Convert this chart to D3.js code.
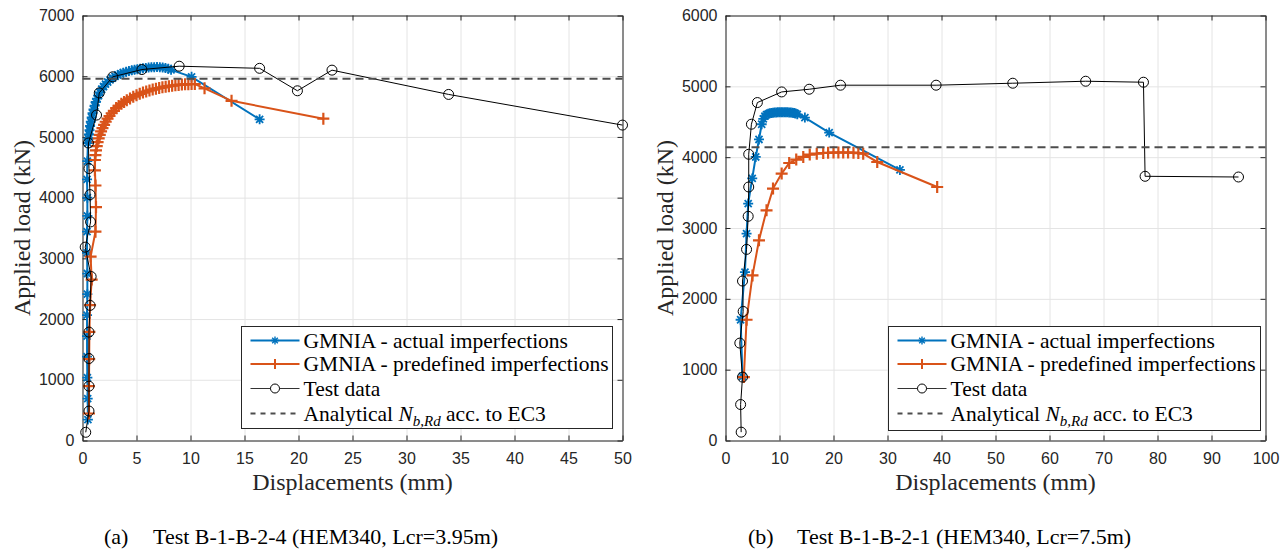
<!DOCTYPE html>
<html>
<head>
<meta charset="utf-8">
<script src="https://cdn.jsdelivr.net/npm/d3@7"></script>
<style>
  body { margin: 0; background: #fff; }
  svg { display: block; }
</style>
</head>
<body>
<div id="chart"></div>
<script>
// ---- Panel (a): Test B-1-B-2-4 ----
const aXTicks = [0, 5, 10, 15, 20, 25, 30, 35, 40, 45, 50];
const aYTicks = [0, 1000, 2000, 3000, 4000, 5000, 6000, 7000];

// GMNIA - actual imperfections [disp mm, load kN]
const aActual = [
  [0.5,345],[0.48,690],[0.45,1035],[0.42,1380],[0.42,1720],[0.42,2065],[0.45,2410],
  [0.45,2750],[0.42,3090],[0.42,3440],[0.45,3700],[0.45,4000],[0.42,4300],[0.45,4600],
  [0.5,4900],[0.55,4970],[0.6,5040],[0.65,5110],[0.7,5180],[0.77,5250],[0.85,5320],
  [0.93,5390],[1.02,5455],[1.12,5515],[1.23,5575],[1.35,5630],[1.48,5685],[1.62,5735],
  [1.78,5785],[1.95,5830],[2.13,5870],[2.33,5905],[2.55,5940],[2.78,5970],[3.02,5997],
  [3.27,6020],[3.52,6040],[3.78,6057],[4.04,6072],[4.3,6085],[4.56,6097],[4.82,6107],
  [5.08,6116],[5.34,6124],[5.6,6131],[5.86,6137],[6.12,6142],[6.38,6146],[6.64,6149],
  [6.9,6150],[7.16,6149],[7.42,6145],[7.68,6137],[7.94,6124],[8.2,6105],
  [10.1,5990],[16.4,5290]
];
// GMNIA - predefined imperfections
const aPredef = [
  [0.6,445],[0.6,895],[0.62,1340],[0.64,1790],[0.7,2230],[0.85,2650],[0.75,3030],
  [1.2,3440],[1.25,3845],[1.2,4200],[1.15,4450],[1.15,4620],
  [1.2,4700],[1.25,4780],[1.32,4850],[1.4,4915],[1.5,4975],[1.6,5035],[1.72,5090],
  [1.85,5145],[2.0,5200],[2.15,5250],[2.32,5300],[2.5,5345],[2.7,5390],[2.9,5430],
  [3.12,5475],[3.35,5510],[3.6,5545],[3.85,5575],[4.1,5605],[4.4,5635],[4.7,5662],
  [5.0,5688],[5.3,5710],[5.6,5730],[5.9,5748],[6.2,5765],[6.5,5780],[6.8,5794],
  [7.1,5806],[7.4,5817],[7.7,5827],[8.0,5836],[8.3,5844],[8.6,5851],[8.9,5857],
  [9.2,5862],[9.5,5866],[9.8,5869],[10.1,5871],[10.4,5872],
  [11.3,5800],[13.8,5595],[22.3,5300]
];
// Test data
const aTest = [
  [0.3,135],[0.6,485],[0.6,895],[0.6,1350],[0.6,1785],[0.7,2225],[0.8,2700],[0.25,3185],
  [0.75,3600],[0.7,4050],[0.6,4480],[0.55,4900],[1.3,5360],[1.55,5725],[2.8,5990],
  [5.5,6110],[8.95,6165],[16.4,6130],[19.9,5760],[23.1,6100],[33.9,5700],[50,5195]
];
const aAnalytical = 5960;

// ---- Panel (b): Test B-1-B-2-1 ----
const bXTicks = [0, 10, 20, 30, 40, 50, 60, 70, 80, 90, 100];
const bYTicks = [0, 1000, 2000, 3000, 4000, 5000, 6000];

const bActual = [
  [3.15,904],[2.8,1705],[3.6,2378],[3.9,2920],[4.2,3345],[4.95,3700],[5.6,4003],[6.2,4250],
  [6.7,4465],[7.0,4540],[7.3,4580],[7.6,4600],[7.9,4612],[8.2,4620],[8.5,4625],[8.8,4628],
  [9.1,4630],[9.4,4632],[9.7,4633],[10.0,4634],[10.3,4634],[10.6,4634],[10.9,4634],
  [11.2,4634],[11.5,4633],[11.8,4632],[12.1,4630],[12.4,4627],[12.7,4622],[13.0,4615],
  [13.3,4605],[14.7,4559],[19.2,4347],[32.3,3820]
];
const bPredef = [
  [3.4,895],[3.9,1705],[5.0,2331],[6.2,2826],[7.6,3250],[8.8,3556],[10.4,3768],[11.8,3918],
  [13.1,3966],[14.4,4003],[15.6,4036],[16.9,4050],[18.1,4059],[19.0,4062],[20.0,4065],
  [20.9,4066],[21.8,4066],[22.7,4065],[23.7,4063],[24.6,4058],[25.5,4050],[28.1,3932],
  [39.2,3579]
];
const bTest = [
  [2.9,118],[2.8,508],[3.15,895],[2.65,1375],[3.27,1822],[3.15,2251],[3.9,2698],[4.2,3165],
  [4.3,3579],[4.3,4041],[4.8,4465],[5.9,4771],[10.4,4921],[15.5,4959],[21.3,5016],
  [39.0,5016],[53.2,5044],[66.7,5072],[77.4,5058],[77.7,3730],[95.0,3720]
];
const bAnalytical = 4140;

const legendLabels = ['GMNIA - actual imperfections', 'GMNIA - predefined imperfections', 'Test data'];

const BLUE = '#0072BD', ORANGE = '#D95319', AXIS = '#262626';

const svg = d3.select('#chart').append('svg')
  .attr('width', 1287).attr('height', 554)
  .style('background', '#fff');

// Marker shapes
function asterisk(s) {
  const k = s * 0.707;
  return `M${-s},0H${s}M0,${-s}V${s}M${-k},${-k}L${k},${k}M${-k},${k}L${k},${-k}`;
}
function plus(s) {
  return `M${-s},0H${s}M0,${-s}V${s}`;
}

function drawPanel(cfg) {
  const x = d3.scaleLinear().domain(cfg.xDomain).range([cfg.left, cfg.right]);
  const y = d3.scaleLinear().domain(cfg.yDomain).range([cfg.bottom, cfg.top]);
  const g = svg.append('g');
  const h = cfg.bottom - cfg.top, w = cfg.right - cfg.left;
  const fmt = d3.format('d');

  // Grid
  g.append('g')
    .attr('transform', `translate(0,${cfg.bottom})`)
    .call(d3.axisBottom(x).tickValues(cfg.xTicks).tickSize(-h).tickFormat(''))
    .call(a => a.select('.domain').remove())
    .selectAll('line').attr('stroke', '#e4e4e4');
  g.append('g')
    .attr('transform', `translate(${cfg.left},0)`)
    .call(d3.axisLeft(y).tickValues(cfg.yTicks).tickSize(-w).tickFormat(''))
    .call(a => a.select('.domain').remove())
    .selectAll('line').attr('stroke', '#e4e4e4');

  // Axes (inward ticks on all four sides)
  const styleAxis = a => {
    a.attr('font-family', '"Liberation Sans", Arial, sans-serif').attr('font-size', 16);
    a.select('.domain').attr('stroke', AXIS);
    a.selectAll('line').attr('stroke', AXIS);
    a.selectAll('text').attr('fill', AXIS);
  };
  g.append('g').attr('transform', `translate(0,${cfg.bottom})`)
    .call(d3.axisBottom(x).tickValues(cfg.xTicks).tickFormat(fmt)
      .tickSizeInner(-5).tickSizeOuter(0).tickPadding(12))
    .call(styleAxis);
  g.append('g').attr('transform', `translate(0,${cfg.top})`)
    .call(d3.axisTop(x).tickValues(cfg.xTicks).tickSizeInner(-5).tickSizeOuter(0).tickFormat(''))
    .call(styleAxis);
  g.append('g').attr('transform', `translate(${cfg.left},0)`)
    .call(d3.axisLeft(y).tickValues(cfg.yTicks).tickFormat(fmt)
      .tickSizeInner(-5).tickSizeOuter(0).tickPadding(8))
    .call(styleAxis);
  g.append('g').attr('transform', `translate(${cfg.right},0)`)
    .call(d3.axisRight(y).tickValues(cfg.yTicks).tickSizeInner(-5).tickSizeOuter(0).tickFormat(''))
    .call(styleAxis);

  const line = d3.line().x(d => x(d[0])).y(d => y(d[1]));

  // GMNIA actual
  g.append('path').datum(cfg.actual)
    .attr('fill', 'none').attr('stroke', BLUE).attr('stroke-width', 2).attr('d', line);
  g.append('g').selectAll('path').data(cfg.actual).enter().append('path')
    .attr('transform', d => `translate(${x(d[0])},${y(d[1])})`)
    .attr('d', asterisk(5)).attr('stroke', BLUE).attr('stroke-width', 1.8).attr('fill', 'none');

  // GMNIA predefined
  g.append('path').datum(cfg.predef)
    .attr('fill', 'none').attr('stroke', ORANGE).attr('stroke-width', 2).attr('d', line);
  g.append('g').selectAll('path').data(cfg.predef).enter().append('path')
    .attr('transform', d => `translate(${x(d[0])},${y(d[1])})`)
    .attr('d', plus(6)).attr('stroke', ORANGE).attr('stroke-width', 2.2).attr('fill', 'none');

  // Test data
  g.append('path').datum(cfg.test)
    .attr('fill', 'none').attr('stroke', '#000').attr('stroke-width', 1).attr('d', line);
  g.append('g').selectAll('circle').data(cfg.test).enter().append('circle')
    .attr('cx', d => x(d[0])).attr('cy', d => y(d[1])).attr('r', 5)
    .attr('fill', 'none').attr('stroke', '#000').attr('stroke-width', 1);

  // Analytical resistance
  g.append('line')
    .attr('x1', cfg.left).attr('x2', cfg.right)
    .attr('y1', y(cfg.analytical)).attr('y2', y(cfg.analytical))
    .attr('stroke', '#4d4d4d').attr('stroke-width', 2).attr('stroke-dasharray', '8,5');

  // Axis titles
  g.append('text')
    .attr('x', (cfg.left + cfg.right) / 2).attr('y', 490)
    .attr('text-anchor', 'middle')
    .attr('font-family', '"Liberation Serif", "Times New Roman", serif').attr('font-size', 24)
    .attr('fill', AXIS).text('Displacements (mm)');
  g.append('text')
    .attr('transform', `translate(${cfg.yTitleX},${(cfg.top + cfg.bottom) / 2}) rotate(-90)`)
    .attr('text-anchor', 'middle')
    .attr('font-family', '"Liberation Serif", "Times New Roman", serif').attr('font-size', 24)
    .attr('fill', AXIS).text('Applied load (kN)');

  // Legend
  const lg = g.append('g').attr('transform', `translate(${cfg.legend.x},${cfg.legend.y})`);
  lg.append('rect').attr('x', 0).attr('y', 0)
    .attr('width', cfg.legend.w).attr('height', cfg.legend.h)
    .attr('fill', '#fff').attr('stroke', AXIS).attr('stroke-width', 1);
  const rows = [14, 37.5, 62, 87];
  const sx1 = 9, sx2 = 58, sm = 33.5, tx = 62;
  const font = '"Liberation Serif", "Times New Roman", serif';
  // row 0
  lg.append('line').attr('x1', sx1).attr('x2', sx2).attr('y1', rows[0]).attr('y2', rows[0])
    .attr('stroke', BLUE).attr('stroke-width', 2);
  lg.append('path').attr('transform', `translate(${sm},${rows[0]})`).attr('d', asterisk(4))
    .attr('stroke', BLUE).attr('stroke-width', 1.4);
  // row 1
  lg.append('line').attr('x1', sx1).attr('x2', sx2).attr('y1', rows[1]).attr('y2', rows[1])
    .attr('stroke', ORANGE).attr('stroke-width', 2);
  lg.append('path').attr('transform', `translate(${sm},${rows[1]})`).attr('d', plus(5))
    .attr('stroke', ORANGE).attr('stroke-width', 2);
  // row 2
  lg.append('line').attr('x1', sx1).attr('x2', sx2).attr('y1', rows[2]).attr('y2', rows[2])
    .attr('stroke', '#333').attr('stroke-width', 1);
  lg.append('circle').attr('cx', sm).attr('cy', rows[2]).attr('r', 4.5)
    .attr('fill', '#fff').attr('stroke', '#000');
  // row 3
  lg.append('line').attr('x1', sx1).attr('x2', sx2).attr('y1', rows[3]).attr('y2', rows[3])
    .attr('stroke', '#4d4d4d').attr('stroke-width', 2).attr('stroke-dasharray', '5,5');

  legendLabels.forEach((t, i) => {
    lg.append('text').attr('x', tx).attr('y', rows[i] + 7)
      .attr('font-family', font).attr('font-size', 21.5).attr('fill', '#000').text(t);
  });
  const t3 = lg.append('text').attr('x', tx).attr('y', rows[3] + 7)
    .attr('font-family', font).attr('font-size', 21.5).attr('fill', '#000');
  t3.append('tspan').text('Analytical ');
  t3.append('tspan').attr('font-style', 'italic').text('N');
  t3.append('tspan').attr('font-style', 'italic').attr('font-size', 15).attr('dy', 5).text('b,Rd');
  t3.append('tspan').attr('dy', -5).text(' acc. to EC3');

  // Caption
  const cap = g.append('g').attr('font-family', font).attr('font-size', 22).attr('fill', '#000');
  cap.append('text').attr('x', cfg.caption.x1).attr('y', 544).text(cfg.caption.tag);
  cap.append('text').attr('x', cfg.caption.x2).attr('y', 544).text(cfg.caption.text);
}

drawPanel({
  left: 82.5, right: 622.5, top: 15.5, bottom: 440.5,
  xDomain: [0, 50], yDomain: [0, 7000], xTicks: aXTicks, yTicks: aYTicks,
  actual: aActual, predef: aPredef, test: aTest, analytical: aAnalytical,
  yTitleX: 30,
  legend: {x: 241.5, y: 326.5, w: 371, h: 102},
  caption: {tag: '(a)', text: 'Test B-1-B-2-4 (HEM340, Lcr=3.95m)', x1: 104, x2: 153}
});

drawPanel({
  left: 725.5, right: 1265.5, top: 15.5, bottom: 440.5,
  xDomain: [0, 100], yDomain: [0, 6000], xTicks: bXTicks, yTicks: bYTicks,
  actual: bActual, predef: bPredef, test: bTest, analytical: bAnalytical,
  yTitleX: 673,
  legend: {x: 888.5, y: 326.5, w: 372, h: 104},
  caption: {tag: '(b)', text: 'Test B-1-B-2-1 (HEM340, Lcr=7.5m)', x1: 748, x2: 797}
});
</script>
</body>
</html>
